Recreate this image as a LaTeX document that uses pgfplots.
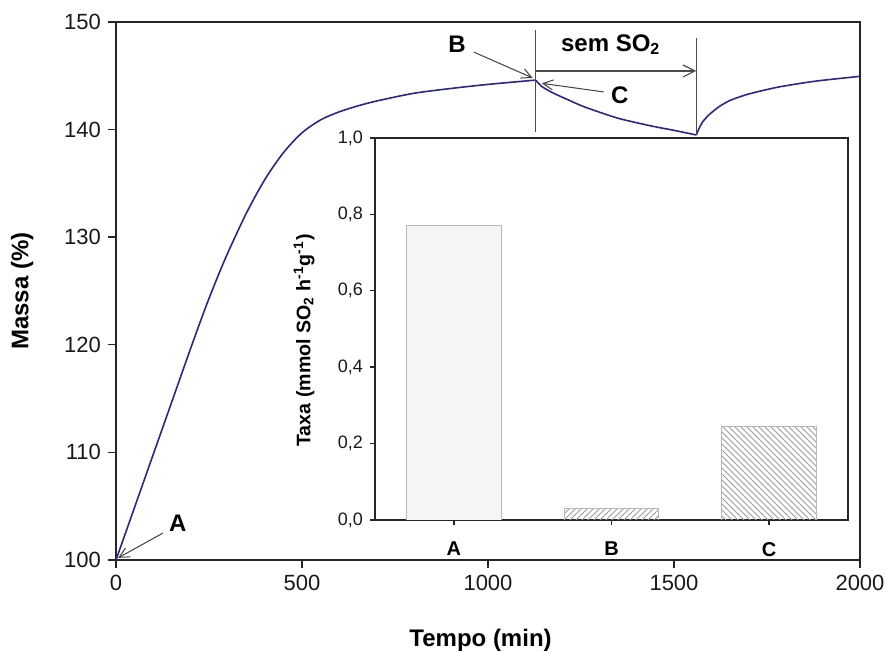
\documentclass[border=0pt]{standalone}
\usepackage{pgfplots}
\pgfplotsset{compat=1.18}
\usepackage{fontspec}
\setmainfont{Liberation Sans}
\usetikzlibrary{patterns,arrows.meta}
\definecolor{curvecol}{RGB}{40,40,140}
\begin{document}
\begin{tikzpicture}
\path[use as bounding box] (-58pt,-46pt) rectangle (384.5pt,280pt);
\begin{axis}[
 at={(0pt,0pt)}, anchor=south west,
 scale only axis, width=372pt, height=269pt,
 xmin=0, xmax=2000, ymin=100, ymax=150,
 xtick={0,500,1000,1500,2000}, ytick={100,110,120,130,140,150},
 tick align=outside, xtick pos=bottom, ytick pos=left,
 major tick length=4pt,
 axis line style={line width=0.7pt, black!85},
 every tick/.style={line width=0.7pt, black!85},
 /pgf/number format/assume math mode=true,
 /pgf/number format/set thousands separator={},
 tick label style={font=\fontsize{11}{13}\selectfont, black!90},
 xlabel={Tempo (min)}, ylabel={Massa (\%)},
 label style={font=\bfseries\fontsize{12}{14}\selectfont},
 xlabel style={at={(axis description cs:0.49,-0.15)}, anchor=center},
 ylabel style={at={(axis description cs:-0.126,0.5)}, anchor=center},
 clip=false,
]
\addplot[curvecol, line width=0.8pt, smooth, tension=0.5] coordinates {
(0,100) (50,104.9) (100,109.8) (150,114.7) (200,119.6) (240,123.4)
(270,126.04) (300,128.5) (350,132.2) (400,135.35) (450,137.85) (500,139.7)
(550,140.9) (600,141.65) (650,142.2) (700,142.65) (800,143.37) (900,143.82)
(1000,144.2) (1128,144.6)
};
\addplot[curvecol, line width=0.8pt, smooth, tension=0.4] coordinates {
(1128,144.6) (1145,144.0) (1172,143.45) (1210,142.85) (1260,142.1)
(1350,141.05) (1440,140.33) (1500,139.93) (1560,139.5)
};
\addplot[curvecol, line width=0.8pt, smooth, tension=0.4] coordinates {
(1560,139.5) (1570,140.3) (1580,140.85) (1595,141.4) (1620,142.1) (1650,142.7)
(1700,143.3) (1780,143.95) (1880,144.5) (2000,144.95)
};
% annotations
\draw[black!75, line width=0.5pt, -{Straight Barb[length=5pt,width=5pt]}] (axis cs:126,102.5) -- (axis cs:6,100.2);
\node[font=\bfseries\fontsize{12}{14}\selectfont] at (axis cs:166,103.4) {A};
\draw[black!75, line width=0.5pt, -{Straight Barb[length=5pt,width=5pt]}] (axis cs:962,147.2) -- (axis cs:1120,144.8);
\node[font=\bfseries\fontsize{12}{14}\selectfont] at (axis cs:917,147.9) {B};
\draw[black!75, line width=0.5pt, -{Straight Barb[length=5pt,width=5pt]}] (axis cs:1311,143.5) -- (axis cs:1145,144.3);
\node[font=\bfseries\fontsize{12}{14}\selectfont] at (axis cs:1354,143.2) {C};
\draw[black!70, line width=0.6pt] (axis cs:1128,149.3) -- (axis cs:1128,139.8);
\draw[black!70, line width=0.6pt] (axis cs:1560,148.5) -- (axis cs:1560,139.5);
\draw[black!70, line width=0.6pt, -{Straight Barb[length=6pt,width=6pt]}] (axis cs:1128,145.45) -- (axis cs:1560,145.45);
\node[font=\bfseries\fontsize{12}{14}\selectfont] at (axis cs:1330,147.9) {sem SO\textsubscript{2}};
\end{axis}
\begin{axis}[
 at={(129.5pt,20pt)}, anchor=south west,
 scale only axis, width=236.5pt, height=191pt,
 xmin=-0.5, xmax=2.5, ymin=0, ymax=1,
 xtick={0,1,2}, xticklabels={A,B,C}, ytick={0,0.2,0.4,0.6,0.8,1},
 tick align=outside, xtick pos=bottom, ytick pos=left,
 major tick length=2.5pt,
 axis line style={line width=1pt, black!85},
 every tick/.style={line width=0.7pt, black!85},
 axis background/.style={fill=white},
 /pgf/number format/use comma,
 /pgf/number format/fixed,
 /pgf/number format/fixed zerofill,
 /pgf/number format/precision=1,
 /pgf/number format/assume math mode=true,
 yticklabel style={font=\fontsize{9}{11}\selectfont, black!90},
 xticklabel style={font=\bfseries\fontsize{10}{12}\selectfont, yshift=-5pt},
 ylabel={Taxa (mmol SO\textsubscript{2} h\textsuperscript{-1}g\textsuperscript{-1})},
 ylabel style={font=\bfseries\fontsize{9.8}{11}\selectfont, at={(axis description cs:-0.15,0.47)}, anchor=center},
]
\addplot[ybar, bar width=0.6, bar shift=0pt, fill=gray!8, draw=gray!55] coordinates {(0,0.77)};
\addplot[ybar, bar width=0.6, bar shift=0pt, draw=gray!55, pattern=north east lines, pattern color=gray!75] coordinates {(1,0.03)};
\addplot[ybar, bar width=0.6, bar shift=0pt, draw=gray!55, pattern=north west lines, pattern color=gray!75] coordinates {(2,0.245)};
\end{axis}
\end{tikzpicture}
\end{document}
